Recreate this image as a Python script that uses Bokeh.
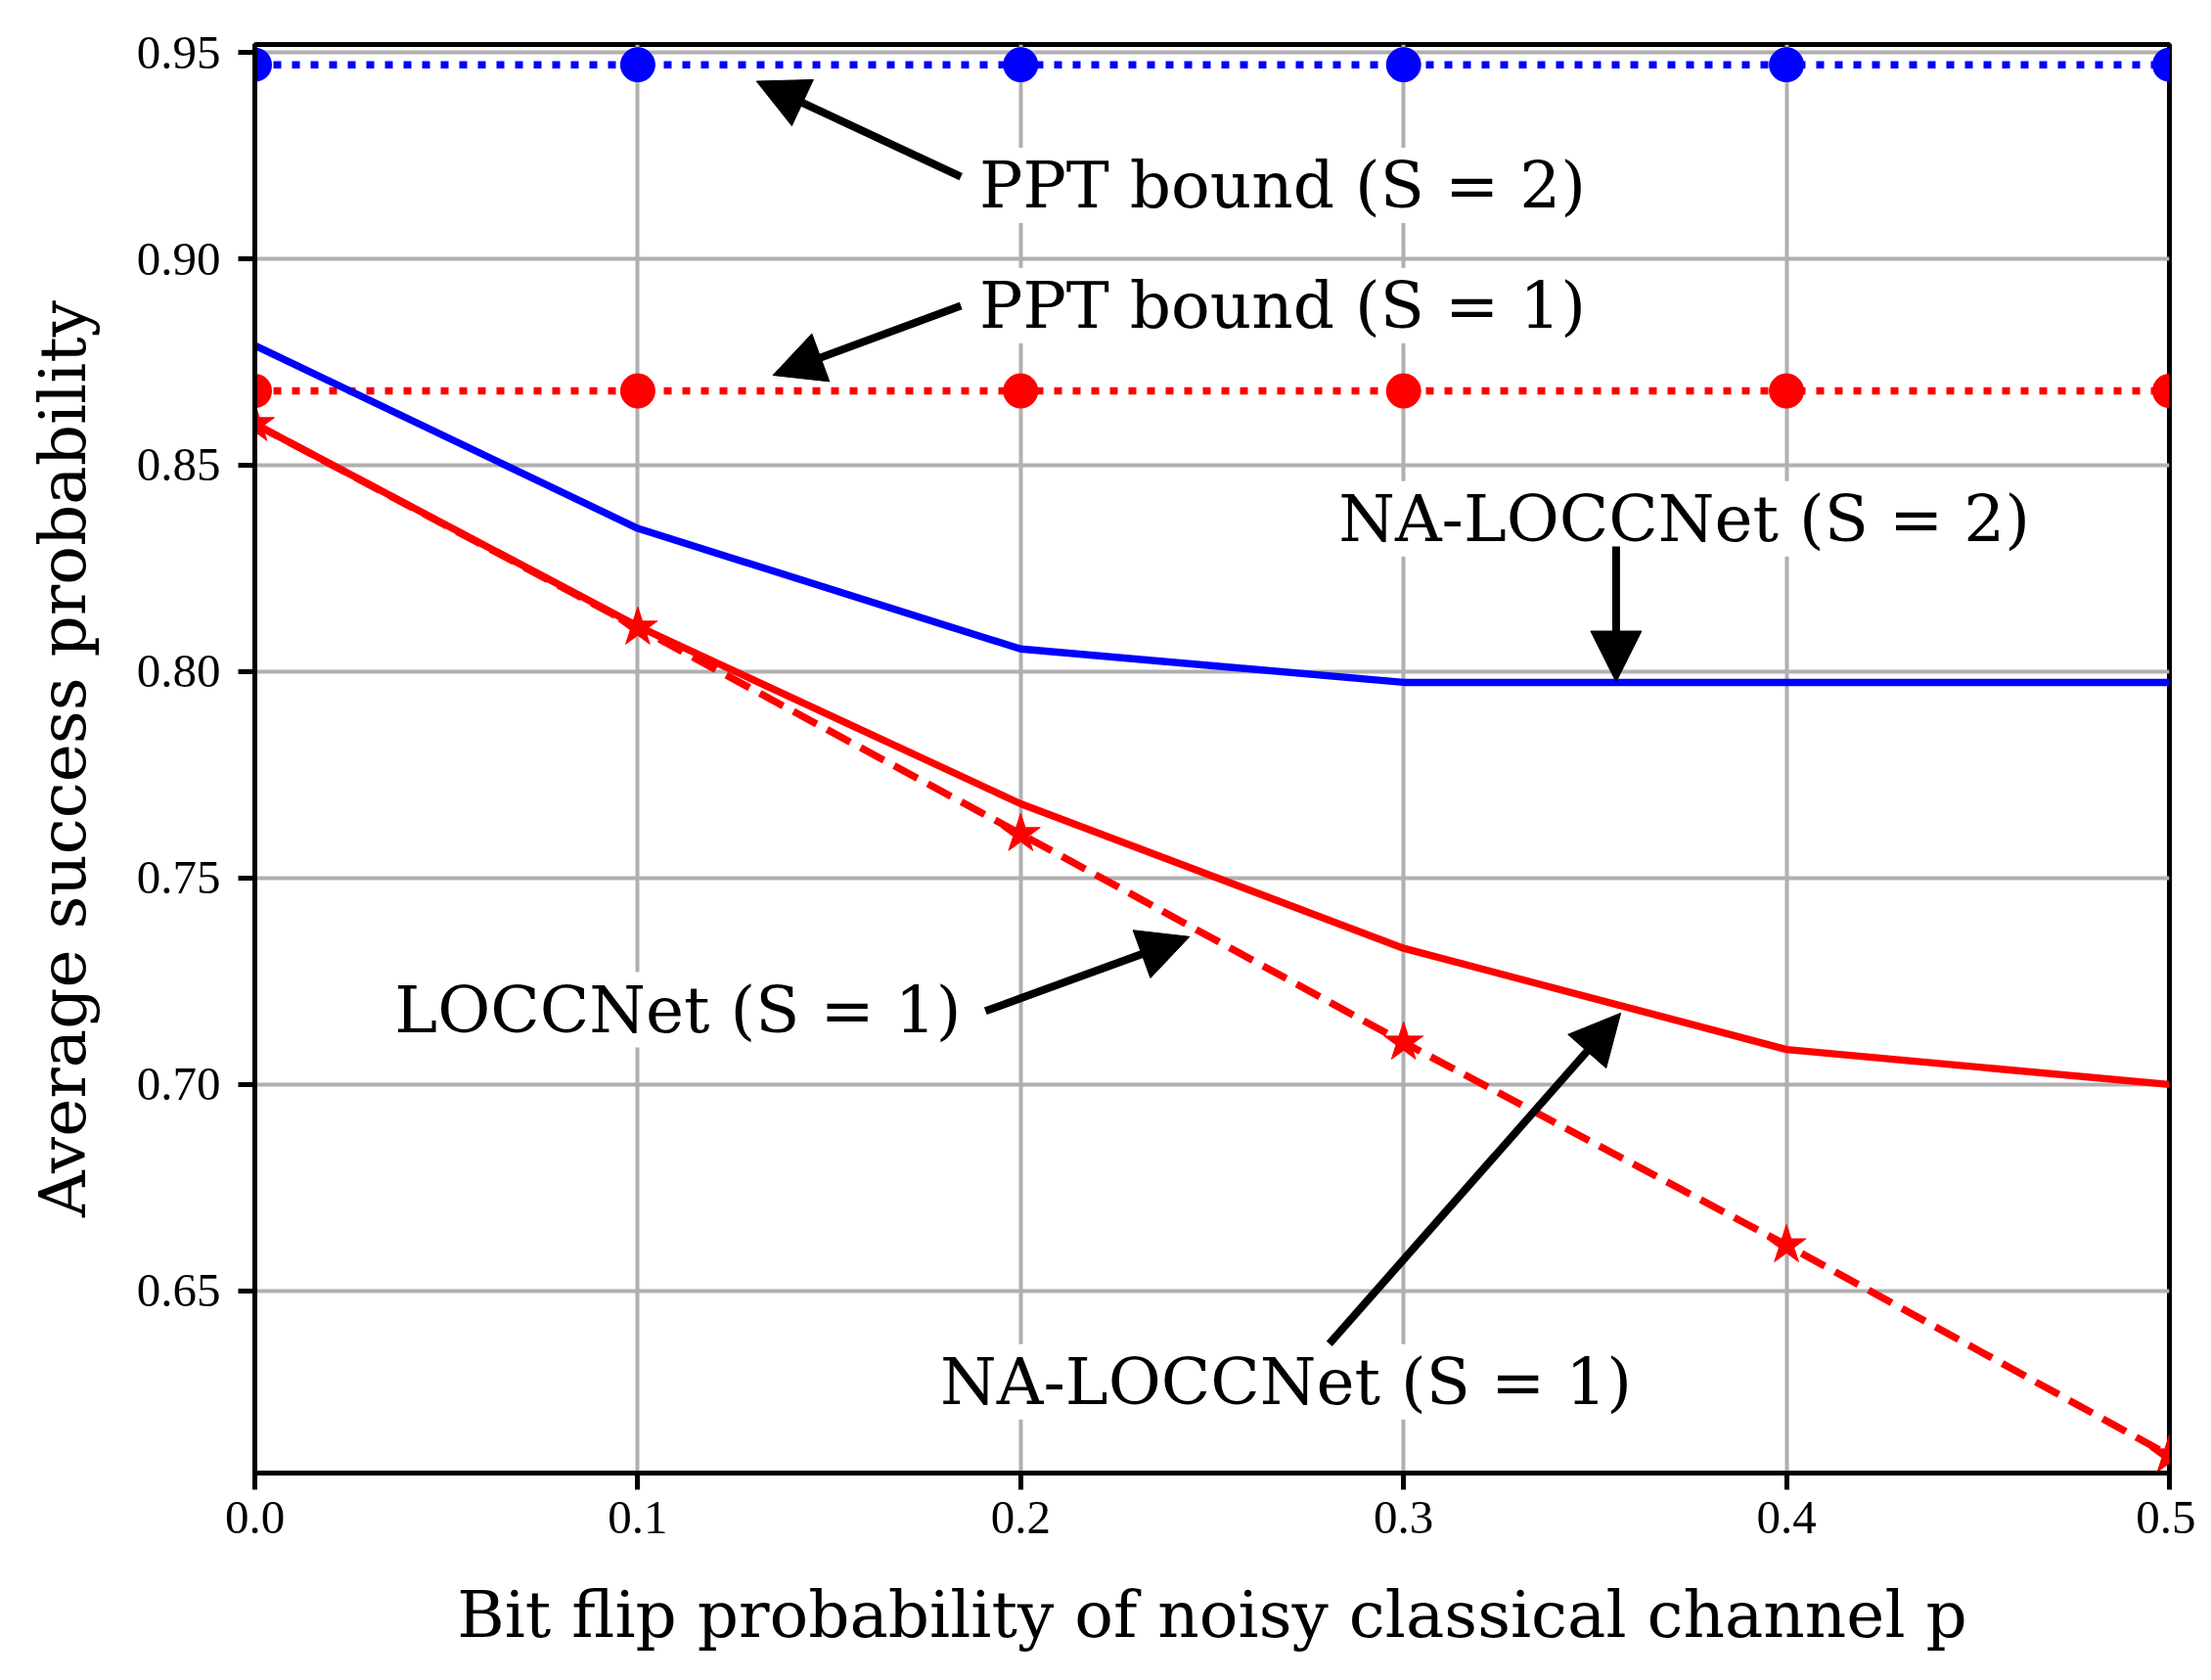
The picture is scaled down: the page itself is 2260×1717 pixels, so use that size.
import math
from bokeh.plotting import figure
from bokeh.models import Range1d, FixedTicker, Arrow, NormalHead, ColumnDataSource
from bokeh.core.properties import value
from bokeh.embed import file_html
from bokeh.resources import INLINE

# bit flip probability p
p_vals = [0.0, 0.1, 0.2, 0.3, 0.4, 0.5]

# average success probability
ppt_s2 = [0.947, 0.947, 0.947, 0.947, 0.947, 0.947]
ppt_s1 = [0.868, 0.868, 0.868, 0.868, 0.868, 0.868]
na_loccnet_s2 = [0.879, 0.8347, 0.8055, 0.7974, 0.7974, 0.7974]
na_loccnet_s1 = [0.860, 0.811, 0.768, 0.733, 0.7085, 0.700]
loccnet_s1 = [0.860, 0.8107, 0.7607, 0.7102, 0.6611, 0.6102]

x_ticks = [0.0, 0.1, 0.2, 0.3, 0.4, 0.5]
x_tick_labels = ["0.0", "0.1", "0.2", "0.3", "0.4", "0.5"]
y_ticks = [0.65, 0.70, 0.75, 0.80, 0.85, 0.90, 0.95]
y_tick_labels = ["0.65", "0.70", "0.75", "0.80", "0.85", "0.90", "0.95"]

labels = ["PPT bound (S = 2)", "PPT bound (S = 1)", "NA-LOCCNet (S = 2)",
          "LOCCNet (S = 1)", "NA-LOCCNet (S = 1)"]

SERIF = value("DejaVu Serif")
BASE_FIX = 0.0055  # text baseline correction, data units

p = figure(width=2244, height=1701,
           x_range=Range1d(0, 0.5), y_range=Range1d(0.6059, 0.9519),
           output_backend="svg", toolbar_location=None,
           min_border_left=260, min_border_right=27,
           min_border_top=45, min_border_bottom=196)

p.background_fill_color = "white"
p.border_fill_color = "white"
p.outline_line_color = "black"
p.outline_line_width = 5

p.xaxis.ticker = FixedTicker(ticks=x_ticks)
p.yaxis.ticker = FixedTicker(ticks=y_ticks)
p.xaxis.major_label_overrides = dict(zip(x_ticks, x_tick_labels))
p.yaxis.major_label_overrides = dict(zip(y_ticks, y_tick_labels))

for ax in (p.xaxis, p.yaxis):
    ax.axis_line_width = 5
    ax.major_tick_line_width = 5
    ax.major_tick_out = 17
    ax.major_tick_in = 0
    ax.minor_tick_line_color = None
    ax.major_label_text_font = "Liberation Serif"
    ax.major_label_text_font_size = "49px"
    ax.major_label_text_color = "black"
    ax.axis_label_text_font = "DejaVu Serif"
    ax.axis_label_text_font_size = "66px"
    ax.axis_label_text_font_style = "normal"
    ax.axis_label_text_color = "black"

p.xaxis.axis_label = "Bit flip probability of noisy classical channel p"
p.yaxis.axis_label = "Average success probability"
p.xaxis.major_label_standoff = 12
p.yaxis.major_label_standoff = 18
p.xaxis.axis_label_standoff = 42
p.yaxis.axis_label_standoff = 34

p.grid.grid_line_color = "#b0b0b0"
p.grid.grid_line_width = 4

# annotation texts (white box hides the grid behind them)
txt_y = [0.9123, 0.8832, 0.8315, 0.7126, 0.6225]
p.text(x=[0.1892, 0.1892, 0.283, 0.0365, 0.179],
       y=[v + BASE_FIX for v in txt_y],
       text=labels, text_font=SERIF, text_font_size="66px",
       text_color="black", text_align="left", text_baseline="alphabetic",
       background_fill_color="white")


def bound_markers(ys, color):
    # full dots inside, half dots cut by the frame at both ends
    p.scatter(p_vals[1:-1], ys[1:-1], marker="circle", size=35,
              fill_color=color, line_color=color)
    p.wedge(x=[p_vals[0]], y=[ys[0]], radius=17.5, radius_units="screen",
            start_angle=-math.pi / 2, end_angle=math.pi / 2,
            fill_color=color, line_color=None)
    p.wedge(x=[p_vals[-1]], y=[ys[-1]], radius=17.5, radius_units="screen",
            start_angle=math.pi / 2, end_angle=3 * math.pi / 2,
            fill_color=color, line_color=None)


# curves
p.line(p_vals, ppt_s2, line_color="blue", line_width=7.4, line_dash="8 11")
bound_markers(ppt_s2, "blue")
p.line(p_vals, ppt_s1, line_color="red", line_width=7.4, line_dash="8 11")
bound_markers(ppt_s1, "red")
p.line(p_vals, na_loccnet_s2, line_color="blue", line_width=7.4)
p.line(p_vals, na_loccnet_s1, line_color="red", line_width=7.4)
p.line(p_vals, loccnet_s1, line_color="red", line_width=7.4, line_dash="27 12")
p.scatter(p_vals, loccnet_s1, marker="star", size=42, fill_color="red", line_color="red")

arrows = ColumnDataSource(dict(
    x0=[0.1844, 0.1844, 0.3555, 0.1908, 0.2806],
    y0=[0.9199, 0.8886, 0.8303, 0.7178, 0.6372],
    x1=[0.1310, 0.1353, 0.3555, 0.2441, 0.3567],
    y1=[0.9430, 0.8718, 0.7975, 0.7358, 0.7173],
))
p.add_layout(Arrow(end=NormalHead(size=52, fill_color="black", line_color="black"),
                   x_start="x0", y_start="y0", x_end="x1", y_end="y1",
                   line_color="black", line_width=8, source=arrows))

open("out.html", "w").write(file_html(p, INLINE))
